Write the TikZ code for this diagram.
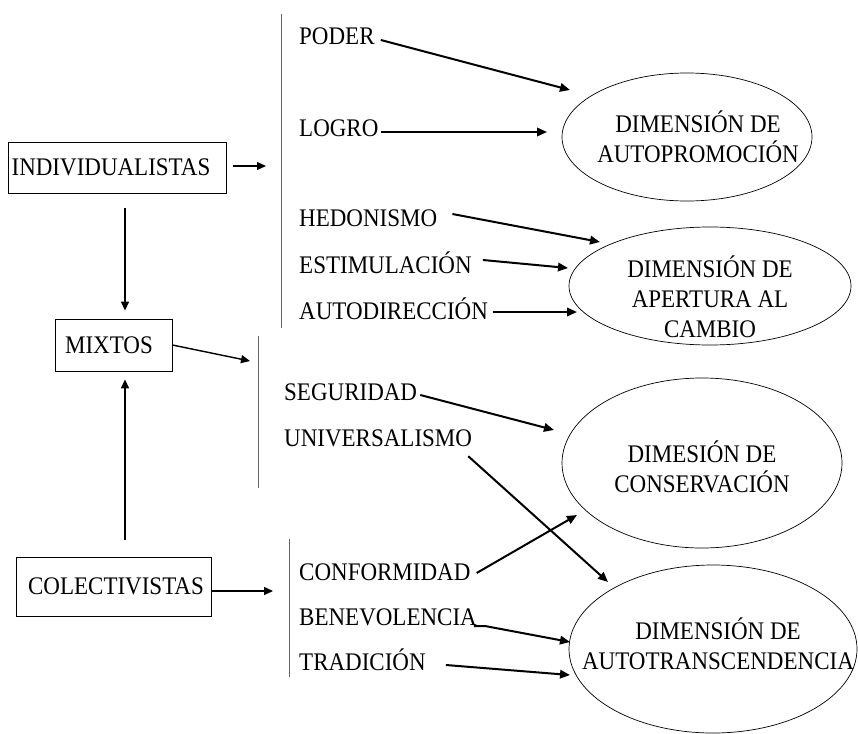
\documentclass[tikz,border=0pt]{standalone}
\usepackage{fontspec}
\usepackage{graphicx}
\setmainfont{Liberation Serif}
\usetikzlibrary{shapes.geometric,arrows.meta}
\newcommand\vs[1]{\scalebox{1}[1.1]{#1}}
\begin{document}
\begin{tikzpicture}[x=1pt,y=-1pt,
  every node/.style={font=\fontsize{23}{30}\selectfont},
  item/.style={anchor=west,inner sep=0pt,text height=16pt,text depth=0pt},
  box/.style={draw,line width=0.8pt,inner sep=0pt},
  dim/.style={draw,ellipse,line width=0.7pt,inner sep=0pt},
  sep/.style={draw=black!60,line width=1pt},
  arr/.style={line width=2pt,-{Triangle[length=10pt,width=8.5pt]}},
  arrs/.style={line width=1.4pt,-{Triangle[length=9pt,width=8pt]}}]
\useasboundingbox (0,0) rectangle (858,733);

% separators
\draw[sep] (281,14) -- (281,328);
\draw[sep] (258,336) -- (258,488);
\draw[sep] (289,539) -- (289,677);

% left boxes
\node[box,minimum width=218pt,minimum height=51pt] (ind) at (117,167.5) {\raisebox{-2pt}{\hspace*{-12pt}\vs{INDIVIDUALISTAS}}};
\node[box,minimum width=117pt,minimum height=52pt] (mix) at (113.5,345) {\hspace*{-9pt}\vs{MIXTOS}};
\node[box,minimum width=195pt,minimum height=59pt] (col) at (113.5,586.5) {\raisebox{-10pt}{\hspace*{5pt}\vs{COLECTIVISTAS}}};

\coordinate (ax) at (125,0);
\coordinate (l1) at (266,166);
\coordinate (l2) at (250,361);
\coordinate (l3) at (273,591);

\draw[arrs] ([xshift=7pt]ind.east |- l1) -- (l1);
\draw[arrs,shorten <=15pt,shorten >=8pt] (ind.south -| ax) -- (mix.north -| ax);
\draw[arrs,shorten <=17pt,shorten >=8pt] (col.north -| ax) -- (mix.south -| ax);
\draw[arrs] (mix.east) -- (l2);
\draw[arrs] (col.east |- l3) -- (l3);

% items
\node[item] (pod) at (299,37) {\vs{PODER}};
\node[item] (log) at (299,128) {\vs{LOGRO}};
\node[item] (hed) at (299,218) {\vs{HEDONISMO}};
\node[item] (est) at (299,265) {\vs{ESTIMULACIÓN}};
\node[item] (aut) at (299,311) {\vs{AUTODIRECCIÓN}};
\node[item] (seg) at (284,392) {\vs{SEGURIDAD}};
\node[item] (uni) at (284,438) {\vs{UNIVERSALISMO}};
\node[item] (con) at (299,572) {\vs{CONFORMIDAD}};
\node[item] (ben) at (299,617) {\vs{BENEVOLENCIA}};
\node[item] (tra) at (299,662) {\vs{TRADICIÓN}};

% dimensions
\node[dim,minimum width=250pt,minimum height=128pt,
  label={[xshift=11pt,align=center]center:\vs{DIMENSIÓN DE}\\\vs{AUTOPROMOCIÓN}}] (e1) at (687,137) {};
\node[dim,minimum width=282pt,minimum height=118pt,
  label={[yshift=-10.5pt,align=center]center:\vs{DIMENSIÓN DE}\\\vs{APERTURA AL}\\\vs{CAMBIO}}] (e2) at (710,286) {};
\node[dim,minimum width=280pt,minimum height=170pt,
  label={[yshift=-4pt,align=center]center:\vs{DIMESIÓN DE}\\\vs{CONSERVACIÓN}}] (e3) at (702,463) {};
\node[dim,minimum width=288pt,minimum height=168pt,
  label={[xshift=5pt,yshift=5pt,align=center]center:\vs{DIMENSIÓN DE}\\\vs{AUTOTRANSCENDENCIA}}] (e4) at (713,649) {};

% arrow ends
\coordinate (podE) at (570,90);
\coordinate (logE) at (547,132);
\coordinate (hedE) at (600,242);
\coordinate (estE) at (568,268);
\coordinate (autE) at (577,312);
\coordinate (segE) at (554,430);
\coordinate (uniE) at (608,582);
\coordinate (conE) at (577,515);
\coordinate (benE) at (570,642);
\coordinate (traE) at (570,675);

\draw[arr] ([xshift=6pt,yshift=-3pt]pod.east) -- (podE);
\draw[arr] ([xshift=2pt,yshift=-4pt]log.east) -- (logE);
\draw[arr] ([xshift=15pt,yshift=4pt]hed.east) -- (hedE);
\draw[arr] ([xshift=11pt,yshift=5pt]est.east) -- (estE);
\draw[arr] ([xshift=5pt,yshift=-1pt]aut.east) -- (autE);
\draw[arr] ([xshift=3pt,yshift=-3pt]seg.east) -- (segE);
\draw[arr] ([xshift=-4pt,yshift=-10pt]uni.south east) -- (uniE);
\draw[arr] ([xshift=6pt,yshift=-1pt]con.east) -- (conE);
\draw[arr] ([xshift=-3pt,yshift=-1pt]ben.south east) -- ++(12,0) -- (benE);
\draw[arr] ([xshift=20pt,yshift=-3pt]tra.east) -- (traE);
\end{tikzpicture}
\end{document}
